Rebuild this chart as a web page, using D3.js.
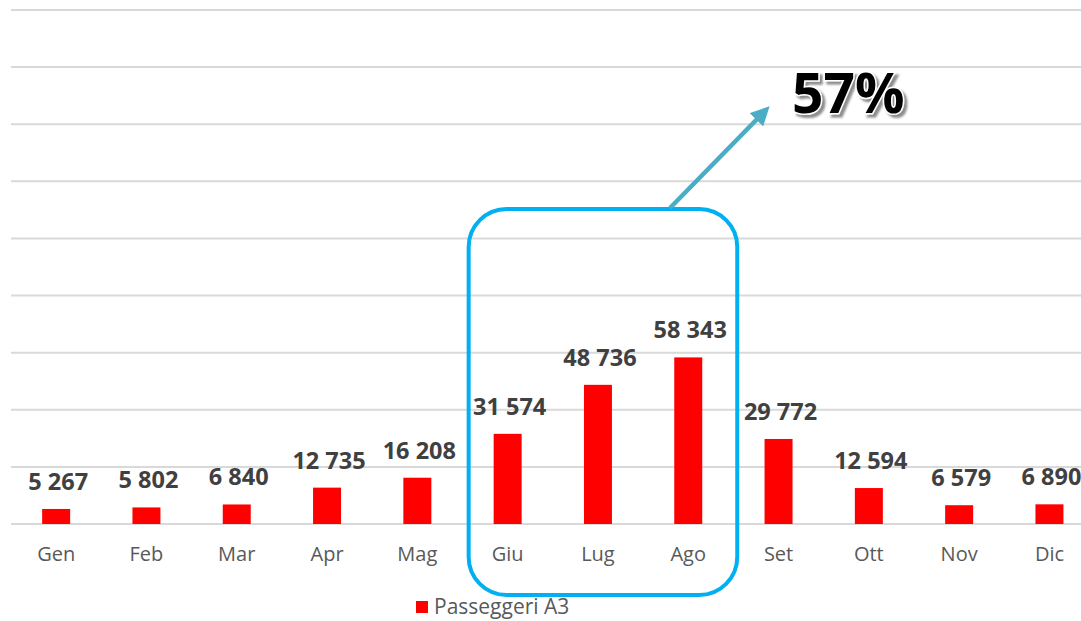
<!DOCTYPE html>
<html>
<head>
<meta charset="utf-8">
<script src="https://cdn.jsdelivr.net/npm/d3@7"></script>
<style>
  html, body { margin: 0; padding: 0; background: #fff; overflow: hidden; }
  #chart { width: 1081px; height: 621px; }
  text { font-family: "Open Sans", "Liberation Sans", sans-serif; }
</style>
</head>
<body>
<div id="chart"></div>
<script>
const months = ["Gen", "Feb", "Mar", "Apr", "Mag", "Giu", "Lug", "Ago", "Set", "Ott", "Nov", "Dic"];
const passengers = [5267, 5802, 6840, 12735, 16208, 31574, 48736, 58343, 29772, 12594, 6579, 6890];
const gridTicks = [0, 20000, 40000, 60000, 80000, 100000, 120000, 140000, 160000, 180000];
const seriesName = "Passeggeri A3";
const highlight = ["Giu", "Lug", "Ago"];
const growthLabel = "57%";

const width = 1081, height = 621;

const svg = d3.select("#chart").append("svg")
  .attr("width", width)
  .attr("height", height);

const defs = svg.append("defs");

const x = d3.scaleBand()
  .domain(months)
  .range([11, 1094.6])
  .paddingInner(0.69)
  .paddingOuter(0.345);

const y = d3.scaleLinear()
  .domain([0, 180000])
  .range([524, 10]);

// gridlines
svg.append("g")
  .selectAll("line")
  .data(gridTicks)
  .join("line")
  .attr("x1", 11)
  .attr("x2", width)
  .attr("y1", d => y(d))
  .attr("y2", d => y(d))
  .attr("stroke", "#d9d9d9")
  .attr("stroke-width", 2);

// bars
svg.append("g")
  .selectAll("rect")
  .data(passengers)
  .join("rect")
  .attr("x", (d, i) => x(months[i]))
  .attr("y", d => y(d))
  .attr("width", x.bandwidth())
  .attr("height", d => y(0) - y(d))
  .attr("fill", "#ff0000");

// value labels
const fmt = v => d3.format(",")(v).replace(/,/g, " ");
svg.append("g")
  .selectAll("text")
  .data(passengers)
  .join("text")
  .attr("x", (d, i) => x(months[i]) + x.bandwidth() / 2 + 2)
  .attr("y", d => y(d) - 19)
  .attr("text-anchor", "middle")
  .attr("font-size", 23.5)
  .attr("font-weight", "bold")
  .attr("fill", "#404040")
  .text(d => fmt(d));

// category labels
svg.append("g")
  .selectAll("text")
  .data(months)
  .join("text")
  .attr("x", d => x(d) + x.bandwidth() / 2)
  .attr("y", 561)
  .attr("text-anchor", "middle")
  .attr("font-size", 20)
  .attr("fill", "#595959")
  .text(d => d);

// legend
const legend = svg.append("g").attr("transform", "translate(416,601)");
legend.append("rect")
  .attr("width", 12)
  .attr("height", 12)
  .attr("fill", "#ff0000");
legend.append("text")
  .attr("x", 18)
  .attr("y", 13)
  .attr("font-size", 21)
  .attr("fill", "#595959")
  .text(seriesName);

// highlight box around summer months
const hx0 = x(highlight[0]) - 25;
const hx1 = x(highlight[highlight.length - 1]) + x.bandwidth() + 35;
svg.append("rect")
  .attr("x", hx0)
  .attr("y", 209)
  .attr("width", hx1 - hx0)
  .attr("height", 386)
  .attr("rx", 38)
  .attr("ry", 38)
  .attr("fill", "none")
  .attr("stroke", "#00b0f0")
  .attr("stroke-width", 4);

// arrow
defs.append("marker")
  .attr("id", "head")
  .attr("viewBox", "0 0 10 10")
  .attr("refX", 5)
  .attr("refY", 5)
  .attr("markerWidth", 4.2)
  .attr("markerHeight", 4.2)
  .attr("markerUnits", "strokeWidth")
  .attr("orient", "auto")
  .append("path")
  .attr("d", "M0,0 L10,5 L0,10 z")
  .attr("fill", "#4bacc6");

svg.append("line")
  .attr("x1", 670)
  .attr("y1", 208)
  .attr("x2", 763)
  .attr("y2", 113)
  .attr("stroke", "#4bacc6")
  .attr("stroke-width", 4.5)
  .attr("marker-end", "url(#head)");

// growth label: white outline + soft gray shadow
const shadow = defs.append("filter")
  .attr("id", "shadow")
  .attr("x", "-10%").attr("y", "-10%")
  .attr("width", "130%").attr("height", "130%");
shadow.append("feDropShadow")
  .attr("dx", 3)
  .attr("dy", 3)
  .attr("stdDeviation", 0.8)
  .attr("flood-color", "#808080")
  .attr("flood-opacity", 0.9);

svg.append("text")
  .attr("x", 792)
  .attr("y", 113)
  .attr("font-size", 55)
  .attr("font-weight", "bold")
  .attr("fill", "#000")
  .attr("stroke", "#fff")
  .attr("stroke-width", 3)
  .attr("paint-order", "stroke")
  .attr("filter", "url(#shadow)")
  .text(growthLabel);
</script>
</body>
</html>
